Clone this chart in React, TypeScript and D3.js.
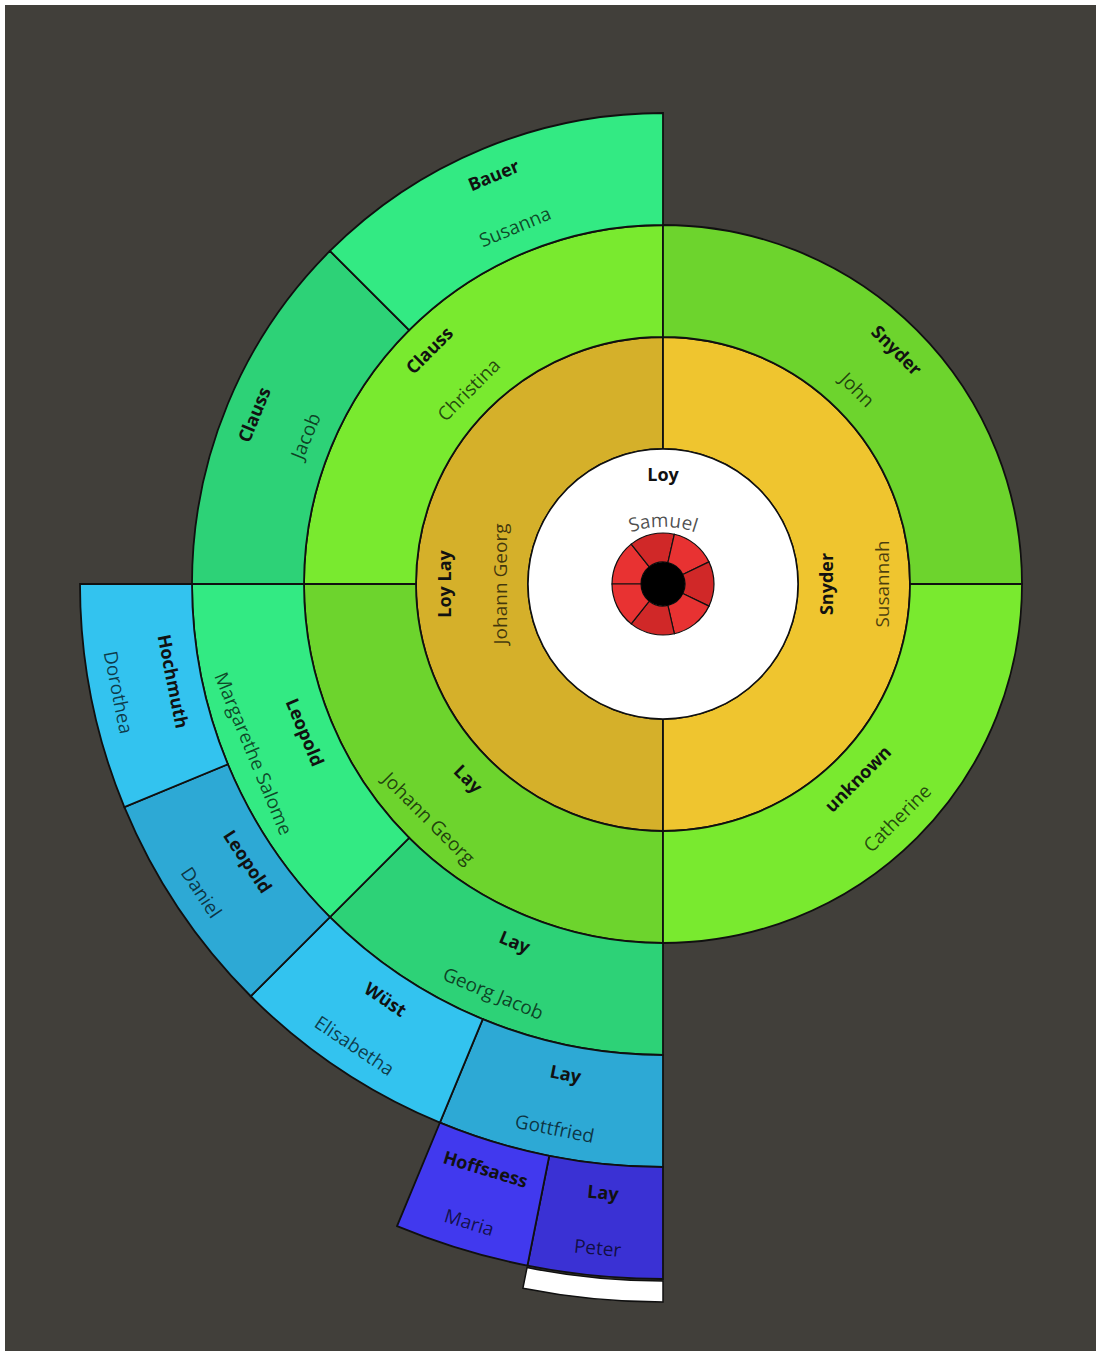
import React, { useEffect, useRef } from 'react';
import * as d3 from 'd3';

const W = 1096;
const H = 1351;
const CX = 663;
const CY = 584;

// the person in the middle
const root = { surname: "Loy", given: "Samuel" };

// children ring (equal slices)
const childSlots = [1, 1, 1, 1, 1, 1, 1];

// ancestors, slot counted clockwise from the bottom (paternal side first)
const gen1 = [
  { slot: 0, surname: "Loy Lay", given: "Johann Georg" },
  { slot: 1, surname: "Snyder", given: "Susannah" },
];
const gen2 = [
  { slot: 0, surname: "Lay", given: "Johann Georg" },
  { slot: 1, surname: "Clauss", given: "Christina" },
  { slot: 2, surname: "Snyder", given: "John" },
  { slot: 3, surname: "unknown", given: "Catherine" },
];
const gen3 = [
  { slot: 0, surname: "Lay", given: "Georg Jacob" },
  { slot: 1, surname: "Leopold", given: "Margarethe Salome" },
  { slot: 2, surname: "Clauss", given: "Jacob" },
  { slot: 3, surname: "Bauer", given: "Susanna" },
];
const gen4 = [
  { slot: 0, surname: "Lay", given: "Gottfried" },
  { slot: 1, surname: "Wüst", given: "Elisabetha" },
  { slot: 2, surname: "Leopold", given: "Daniel" },
  { slot: 3, surname: "Hochmuth", given: "Dorothea" },
];
const gen5 = [
  { slot: 0, surname: "Lay", given: "Peter" },
  { slot: 1, surname: "Hoffsaess", given: "Maria" },
];
// next generation not loaded yet -> white stub
const gen6 = [{ slot: 0 }, { slot: 1 }];

const generations = [gen1, gen2, gen3, gen4, gen5];

// [even slot, odd slot]
const palette = [
  ["#d5b02a", "#efc52f"],
  ["#6dd42d", "#79ea2f"],
  ["#2dd277", "#33ea83"],
  ["#2da9d5", "#33c3ef"],
  ["#3a31d4", "#4139ee"],
];
const childColors = ["#e83232", "#d02828"];

const FONT = "'Open Sans', 'DejaVu Sans', sans-serif";

export default function App() {
  const svgRef = useRef<SVGSVGElement>(null);

  useEffect(() => {
    if (!svgRef.current) return;
    const svg = d3.select(svgRef.current);
    svg.selectAll("*").remove();

    svg.append("rect")
      .attr("x", 5).attr("y", 5)
      .attr("width", W - 5).attr("height", H - 5)
      .attr("fill", "#413f3a");

    const defs = svg.append("defs");
    const g = svg.append("g").attr("transform", `translate(${CX},${CY})`);

    const ring = d3.scaleLinear().domain([0, 5]).range([135, 695]);
    const angleFor = (gen: number) =>
      d3.scaleLinear().domain([0, 2 ** gen]).range([Math.PI, 3 * Math.PI]);
    const arc = d3.arc<any>();
    const stroke = "#101010";

    // ancestor rings
    generations.forEach((people, gi) => {
      const gen = gi + 1;
      const ang = angleFor(gen);
      const r0 = ring(gen - 1);
      const r1 = ring(gen);
      const rm = (r0 + r1) / 2;

      g.append("g").selectAll("path")
        .data(people)
        .join("path")
        .attr("d", (d) => arc({
          innerRadius: r0, outerRadius: r1,
          startAngle: ang(d.slot), endAngle: ang(d.slot + 1),
        }))
        .attr("fill", (d) => palette[gi][d.slot % 2])
        .attr("stroke", stroke)
        .attr("stroke-width", 1.8);

      const labels = g.append("g").selectAll("g")
        .data(people)
        .join("g")
        .attr("transform", (d) => {
          const a = (ang(d.slot) + ang(d.slot + 1)) / 2;
          let deg = ((a * 180 / Math.PI) % 180 + 180) % 180;
          if (deg >= 90) deg -= 180;
          return `translate(${rm * Math.sin(a)},${-rm * Math.cos(a)}) rotate(${deg})`;
        });

      labels.append("text")
        .attr("y", -28)
        .attr("text-anchor", "middle")
        .attr("dominant-baseline", "central")
        .attr("font-family", FONT)
        .attr("font-weight", "bold")
        .attr("font-size", 18)
        .attr("fill", "#111")
        .text((d) => d.surname);

      labels.append("text")
        .attr("y", 28)
        .attr("text-anchor", "middle")
        .attr("dominant-baseline", "central")
        .attr("font-family", FONT)
        .attr("font-size", 19)
        .attr("fill", "rgba(0,0,0,0.7)")
        .text((d) => d.given);
    });

    // white stub for the unloaded generation
    const ang6 = angleFor(6);
    g.append("path")
      .attr("d", arc({
        innerRadius: ring(5) + 2, outerRadius: ring(5) + 23,
        startAngle: ang6(d3.min(gen6, (d) => d.slot)!),
        endAngle: ang6(d3.max(gen6, (d) => d.slot)! + 1),
      }))
      .attr("fill", "#ffffff")
      .attr("stroke", stroke)
      .attr("stroke-width", 1.5);

    // centre person
    g.append("circle")
      .attr("r", ring(0))
      .attr("fill", "#ffffff")
      .attr("stroke", stroke)
      .attr("stroke-width", 1.5);

    g.append("text")
      .attr("y", -110)
      .attr("text-anchor", "middle")
      .attr("dominant-baseline", "central")
      .attr("font-family", FONT)
      .attr("font-weight", "bold")
      .attr("font-size", 18)
      .attr("fill", "#111")
      .text(root.surname);

    const bend = 100;
    const base = -57;
    const p = d3.path();
    p.arc(0, base + bend, bend, -Math.PI / 2 - 0.6, -Math.PI / 2 + 0.6);
    defs.append("path")
      .attr("id", "rootGiven")
      .attr("d", p.toString())
      .attr("transform", `translate(${CX},${CY})`);

    svg.append("text")
      .attr("font-family", FONT)
      .attr("font-size", 19)
      .attr("fill", "rgba(0,0,0,0.7)")
      .append("textPath")
      .attr("href", "#rootGiven")
      .attr("startOffset", "50%")
      .attr("text-anchor", "middle")
      .text(root.given);

    // children ring
    const pie = d3.pie<number>().sort(null)
      .startAngle(-Math.PI / 2).endAngle(1.5 * Math.PI);
    g.append("g").selectAll("path")
      .data(pie(childSlots))
      .join("path")
      .attr("d", (d) => arc({ ...d, innerRadius: 22, outerRadius: 51 }))
      .attr("fill", (d, i) => childColors[i % 2])
      .attr("stroke", stroke)
      .attr("stroke-width", 1.2);

    g.append("circle").attr("r", 22).attr("fill", "#000");
  }, []);

  return (
    <div style={{ position: "absolute", left: 0, top: 0 }}>
      <svg ref={svgRef} width={W} height={H} style={{ display: "block", background: "#fff" }} />
    </div>
  );
}
